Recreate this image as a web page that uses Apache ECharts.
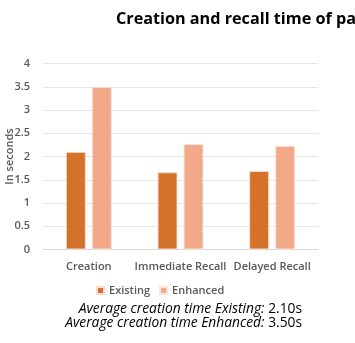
<!DOCTYPE html>
<html><head><meta charset="utf-8">
<script src="https://cdn.jsdelivr.net/npm/echarts@6/dist/echarts.min.js"></script>
<style>html,body{margin:0;padding:0;background:#fff}#c{width:355px;height:343px}</style>
</head><body><div id="c"></div>
<script>
const categories = ['Creation', 'Immediate Recall', 'Delayed Recall'];
const existing = [2.1, 1.66, 1.69];
const enhanced = [3.5, 2.27, 2.23];
const yTicks = [0, 0.5, 1, 1.5, 2, 2.5, 3, 3.5, 4];
const seriesNames = ['Existing', 'Enhanced'];
const titleText = 'Creation and recall time of passwords';
const noteLines = ['Average creation time Existing: ', '2.10s', 'Average creation time Enhanced: ', '3.50s'];

const font = '"Open Sans", "Liberation Sans", sans-serif';
const chart = echarts.init(document.getElementById('c'), null, {renderer: 'canvas'});
chart.setOption({
  animation: false,
  backgroundColor: '#fff',
  title: {text: titleText, left: 111, top: 6, textStyle: {fontFamily: font, fontSize: 16.2, fontWeight: 'bold', color: '#000'}},
  grid: {left: 43, right: 37, top: 63.5, bottom: 93.5, containLabel: false, outerBoundsMode: 'none'},
  legend: {data: seriesNames, left: 91, top: 280, itemWidth: 7, itemHeight: 7, itemGap: 9, icon: 'rect',
    textStyle: {fontFamily: font, fontSize: 11, color: '#595959', fontWeight: 600}},
  xAxis: {type: 'category', data: categories, axisLine: {lineStyle: {color: '#d9d9d9'}}, axisTick: {show: false},
    axisLabel: {fontFamily: font, fontSize: 11, color: '#595959', fontWeight: 600, margin: 12, interval: 0}},
  yAxis: {type: 'value', min: 0, max: yTicks[yTicks.length-1], interval: yTicks[1]-yTicks[0],
    name: 'In seconds', nameLocation: 'middle', nameGap: 28, nameRotate: 90, nameMoveOverlap: false,
    nameTextStyle: {fontFamily: font, fontSize: 11, color: '#595959', fontWeight: 600},
    axisLabel: {fontFamily: font, fontSize: 11, color: '#595959', fontWeight: 600, margin: 13},
    splitLine: {lineStyle: {color: '#e6e6e6'}}, axisLine: {show: false}},
  series: [
    {name: seriesNames[0], type: 'bar', data: existing, barWidth: 20, barGap: '30%', itemStyle: {color: '#d4712a', borderColor: '#f3dccd', borderWidth: 1}},
    {name: seriesNames[1], type: 'bar', data: enhanced, barWidth: 20, itemStyle: {color: '#f2a98a', borderColor: '#fbe3d8', borderWidth: 1}}
  ],
  graphic: [
    {type: 'text', right: 53, top: 302.5, style: {rich: {i: {fontStyle: 'italic', fontFamily: font, fontSize: 13.8, fill: '#000'}, n: {fontFamily: font, fontSize: 13.8, fill: '#000'}}, text: '{i|' + noteLines[0] + '}{n|' + noteLines[1] + '}'}},
    {type: 'text', right: 53, top: 316, style: {rich: {i: {fontStyle: 'italic', fontFamily: font, fontSize: 13.8, fill: '#000'}, n: {fontFamily: font, fontSize: 13.8, fill: '#000'}}, text: '{i|' + noteLines[2] + '}{n|' + noteLines[3] + '}'}}
  ]
});
</script></body></html>
